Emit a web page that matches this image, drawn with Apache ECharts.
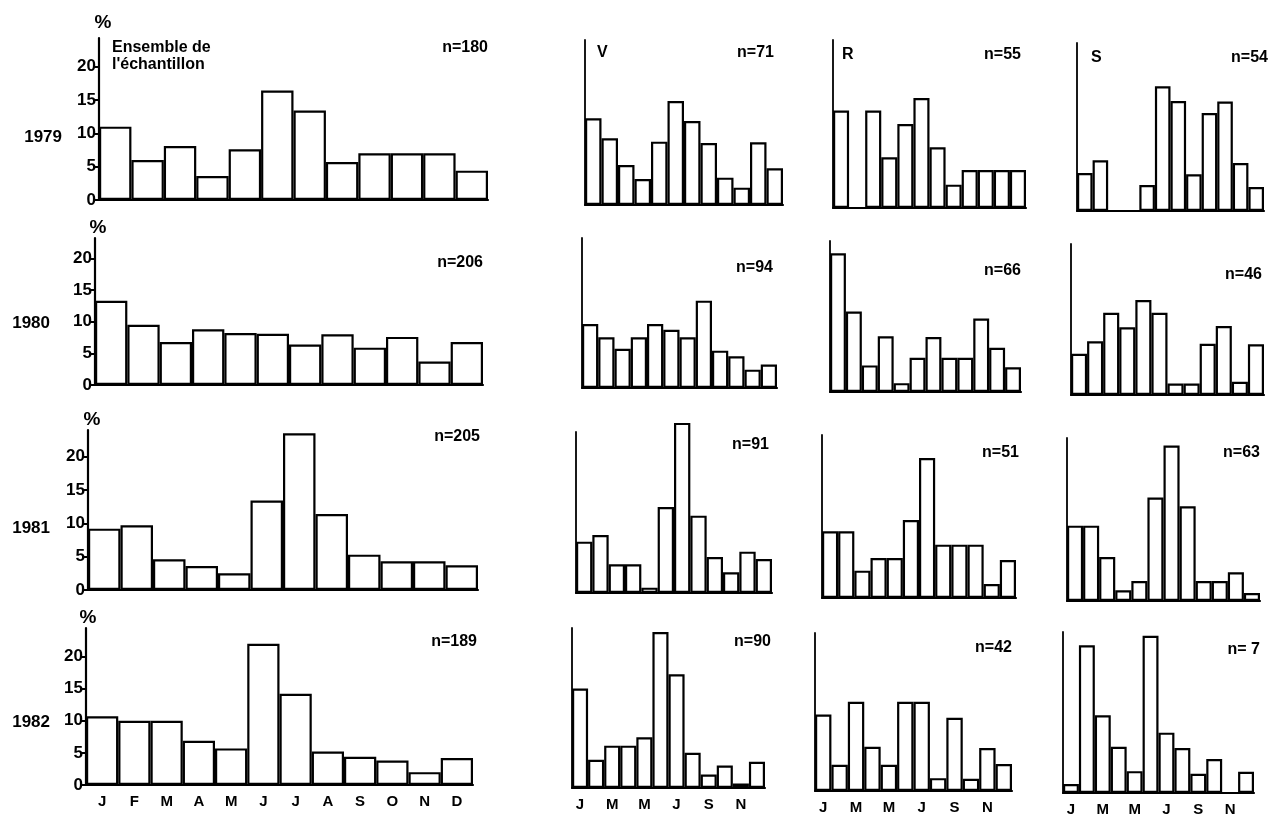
<!DOCTYPE html>
<html><head><meta charset="utf-8">
<script src="https://cdn.jsdelivr.net/npm/echarts@6/dist/echarts.min.js"></script>
<style>html,body{margin:0;padding:0;background:#fff}#c{width:1279px;height:821px}</style>
</head><body><div id="c"></div>
<script>
// ---- data ----
const months = ['J','F','M','A','M','J','J','A','S','O','N','D'];
const years = ['1979','1980','1981','1982'];
const yTicks = [0,5,10,15,20];
const panelNames = ["Ensemble de\nl'échantillon", 'V', 'R', 'S'];
const nLabels = [
  ['n=180','n=71','n=55','n=54'],
  ['n=206','n=94','n=66','n=46'],
  ['n=205','n=91','n=51','n=63'],
  ['n=189','n=90','n=42','n= 7']
];
const all1979 = [11.0, 6.0, 8.1, 3.6, 7.6, 16.4, 13.4, 5.7, 7.0, 7.0, 7.0, 4.4];
const v1979   = [13.0, 10.0, 6.0, 3.9, 9.5, 15.6, 12.6, 9.3, 4.1, 2.6, 9.4, 5.5];
const r1979   = [14.6, 0, 14.6, 7.6, 12.6, 16.5, 9.1, 3.5, 5.7, 5.7, 5.7, 5.7];
const s1979   = [5.7, 7.6, 0, 0, 3.9, 18.7, 16.5, 5.5, 14.7, 16.4, 7.2, 3.6];
const all1980 = [13.3, 9.5, 6.8, 8.8, 8.2, 8.1, 6.4, 8.0, 5.9, 7.6, 3.7, 6.8];
const v1980   = [10.1, 8.0, 6.2, 8.0, 10.1, 9.2, 8.0, 13.8, 5.9, 5.0, 2.9, 3.7];
const r1980   = [21.9, 12.7, 4.2, 8.8, 1.4, 5.4, 8.7, 5.4, 5.4, 11.6, 7.0, 3.9];
const s1980   = [6.5, 8.5, 13.0, 10.7, 15.0, 13.0, 1.8, 1.8, 8.1, 10.9, 2.1, 8.0];
const all1981 = [9.2, 9.7, 4.6, 3.6, 2.5, 13.4, 23.5, 11.4, 5.3, 4.3, 4.3, 3.7];
const v1981   = [7.7, 8.7, 4.3, 4.3, 0.8, 12.9, 25.5, 11.6, 5.4, 3.1, 6.2, 5.1];
const r1981   = [10.0, 10.0, 4.1, 6.0, 6.0, 11.7, 21.0, 8.0, 8.0, 8.0, 2.1, 5.7];
const s1981   = [11.3, 11.3, 6.6, 1.6, 3.0, 15.5, 23.3, 14.2, 3.0, 3.0, 4.3, 1.2];
const all1982 = [10.7, 10.0, 10.0, 6.9, 5.7, 22.0, 14.2, 5.2, 4.4, 3.8, 2.0, 4.2];
const v1982   = [15.5, 4.4, 6.6, 6.6, 7.9, 24.3, 17.7, 5.5, 2.1, 3.5, 0.7, 4.1];
const r1982   = [11.9, 4.1, 13.9, 6.9, 4.1, 13.9, 13.9, 2.0, 11.4, 1.9, 6.7, 4.2];
const s1982   = [1.4, 23.0, 12.1, 7.2, 3.4, 24.5, 9.4, 7.0, 3.0, 5.3, 0, 3.3];

const rowsData = [
  [all1979, v1979, r1979, s1979],
  [all1980, v1980, r1980, s1980],
  [all1981, v1981, r1981, s1981],
  [all1982, v1982, r1982, s1982]
];

// ---- layout (pixels) ----
// [axis x, right end, axis top, baseline]
const layout = [
  [[99,488,38,200],[585,783,40,205],[833,1026,40,208],[1077,1264,43,211]],
  [[95,483,238,385],[582,777,238,388],[830,1021,241,392],[1071,1264,244,395]],
  [[88,478,430,590],[576,772,432,593],[822,1016,435,598],[1067,1260,438,601]],
  [[86,473,628,785],[572,765,628,788],[815,1012,633,791],[1063,1254,632,793]]
];
const pxPerPct = [6.67, 6.33, 6.67, 6.42];
// n-label [right x, y]
const nPos = [
  [[488,48],[774,53],[1021,55],[1268,58]],
  [[483,263],[773,268],[1021,271],[1262,275]],
  [[480,437],[769,445],[1019,453],[1260,453]],
  [[477,642],[771,642],[1012,648],[1260,650]]
];
const pctPos = [[103,23],[98,228],[92,420],[88,618]];
const yearPos = [[62,137],[50,323],[50,528],[50,722]];

const FONT = '"Liberation Sans", Arial, sans-serif';
const grids = [], xAxes = [], yAxes = [], series = [];
let k = 0;
for (let r = 0; r < 4; r++) {
  for (let c = 0; c < 4; c++) {
    const [x, right, top, base] = layout[r][c];
    grids.push({left: x, top: top, width: right - x, height: base - top});
    const isLeft = c === 0, isBottom = r === 3;
    xAxes.push({
      type: 'category', gridIndex: k, data: months, boundaryGap: true,
      axisLine: {show: true, lineStyle: {color: '#000', width: 2.2}},
      axisTick: {show: false},
      axisLabel: {show: isBottom, interval: isLeft ? 0 : 1, color: '#000',
        fontFamily: FONT, fontWeight: 'bold', fontSize: 15, margin: 9},
      splitLine: {show: false}
    });
    yAxes.push({
      type: 'value', gridIndex: k, min: 0, max: (base - top) / pxPerPct[r],
      axisLine: {show: true, lineStyle: {color: '#000', width: isLeft ? 2.2 : 1.8}},
      axisTick: {show: isLeft, length: 6, customValues: yTicks, lineStyle: {color: '#000', width: 2}},
      axisLabel: {show: isLeft, customValues: yTicks, color: '#000', fontFamily: FONT,
        fontWeight: 'bold', fontSize: 17, margin: 3},
      splitLine: {show: false}
    });
    series.push({
      type: 'bar', xAxisIndex: k, yAxisIndex: k, data: rowsData[r][c],
      barCategoryGap: '0%', barGap: '0%', clip: false, silent: true,
      itemStyle: {color: '#fff', borderColor: '#000', borderWidth: 2.2}
    });
    k++;
  }
}

const graphics = [];
for (let r = 0; r < 4; r++) {
  graphics.push({type: 'text', x: pctPos[r][0], y: pctPos[r][1],
    style: {text: '%', font: 'bold 19px ' + FONT, fill: '#000', align: 'center', verticalAlign: 'middle'}});
  graphics.push({type: 'text', x: yearPos[r][0], y: yearPos[r][1],
    style: {text: years[r], font: 'bold 17px ' + FONT, fill: '#000', align: 'right', verticalAlign: 'middle'}});
  for (let c = 0; c < 4; c++) {
    graphics.push({type: 'text', x: nPos[r][c][0], y: nPos[r][c][1],
      style: {text: nLabels[r][c], font: 'bold 16px ' + FONT, fill: '#000', align: 'right', verticalAlign: 'middle'}});
  }
}
graphics.push({type: 'text', x: 112, y: 39,
  style: {text: panelNames[0], font: 'bold 16px ' + FONT, fill: '#000', align: 'left', verticalAlign: 'top', lineHeight: 17}});
graphics.push({type: 'text', x: 597, y: 53,
  style: {text: panelNames[1], font: 'bold 16px ' + FONT, fill: '#000', align: 'left', verticalAlign: 'middle'}});
graphics.push({type: 'text', x: 842, y: 55,
  style: {text: panelNames[2], font: 'bold 16px ' + FONT, fill: '#000', align: 'left', verticalAlign: 'middle'}});
graphics.push({type: 'text', x: 1091, y: 58,
  style: {text: panelNames[3], font: 'bold 16px ' + FONT, fill: '#000', align: 'left', verticalAlign: 'middle'}});

const chart = echarts.init(document.getElementById('c'), null, {renderer: 'canvas'});
chart.setOption({
  animation: false,
  backgroundColor: '#fff',
  grid: grids, xAxis: xAxes, yAxis: yAxes, series: series,
  graphic: graphics
});
</script></body></html>
